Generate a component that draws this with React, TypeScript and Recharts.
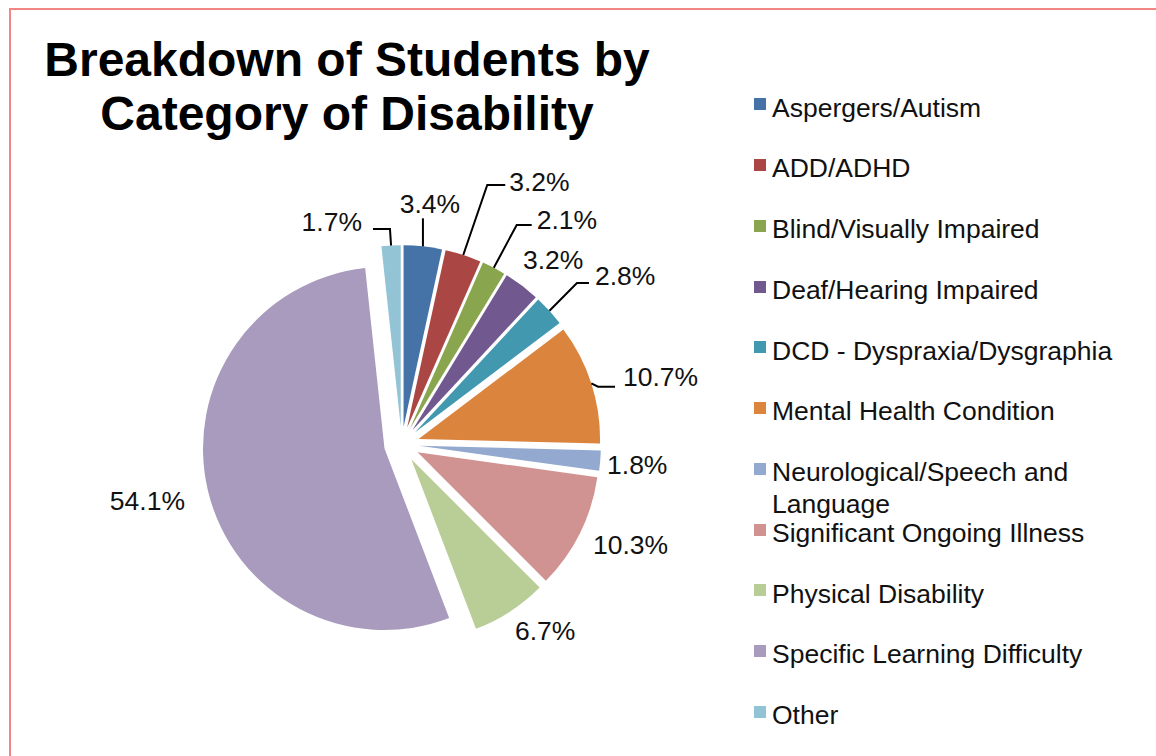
import React from 'react';
import { PieChart, Pie, Cell, Sector, Legend } from 'recharts';

const categories = [
  'Aspergers/Autism',
  'ADD/ADHD',
  'Blind/Visually Impaired',
  'Deaf/Hearing Impaired',
  'DCD - Dyspraxia/Dysgraphia',
  'Mental Health Condition',
  'Neurological/Speech and Language',
  'Significant Ongoing Illness',
  'Physical Disability',
  'Specific Learning Difficulty',
  'Other',
];
const percentages = [3.4, 3.2, 2.1, 3.2, 2.8, 10.7, 1.8, 10.3, 6.7, 54.1, 1.7];
const colors = [
  '#4572A7', '#AA4643', '#89A54E', '#71588F', '#4198AF', '#DB843D',
  '#93A9CF', '#D19392', '#B9CD96', '#A99BBD', '#92C4D6',
];
const titleLines = ['Breakdown of Students by', 'Category of Disability'];

const data = categories.map((name, i) => ({ name, value: percentages[i] }));

const FONT = "'Liberation Sans', Arial, Helvetica, sans-serif";
const EXPLODE = 17.7;
const RAD = Math.PI / 180;

type Pt = [number, number];
type LabelLayout = { text: Pt; anchor: 'start' | 'middle' | 'end'; leader?: Pt[] };

// label placement relative to the outer arc midpoint of each (exploded) slice
const labelLayouts: LabelLayout[] = [
  { text: [7, -43], anchor: 'middle', leader: [[0, 0], [0, -28]] },
  { text: [46, -73.5], anchor: 'start', leader: [[0, 0], [24, -70], [42, -70]] },
  { text: [42.9, -47.8], anchor: 'start', leader: [[0, 0], [22.9, -42.8], [37.9, -42.8]] },
  { text: [1.2, -25.5], anchor: 'start' },
  { text: [45.5, -34.8], anchor: 'start', leader: [[0, 0], [27.5, -27.8], [39.5, -27.8]] },
  { text: [31.7, -6.5], anchor: 'start', leader: [[0, 0], [6.7, 3.2], [23.7, 3.2]] },
  { text: [6.8, 4.3], anchor: 'start' },
  { text: [13, 11.8], anchor: 'start' },
  { text: [5, 19.3], anchor: 'start' },
  { text: [-23, 10], anchor: 'end' },
  { text: [-29.1, -23.5], anchor: 'end', leader: [[0, 0], [-1.1, -16.5], [-18.1, -16.5]] },
];

const unit = (mid: number) => [Math.cos(-mid * RAD), Math.sin(-mid * RAD)];

const ExplodedSector = (props: any) => {
  const { cx, cy, midAngle } = props;
  const [ux, uy] = unit(midAngle);
  return <Sector {...props} cx={cx + EXPLODE * ux} cy={cy + EXPLODE * uy} />;
};

const renderLabel = (props: any) => {
  const { cx, cy, midAngle, outerRadius, index, value } = props;
  const [ux, uy] = unit(midAngle);
  const ax = cx + (outerRadius + EXPLODE) * ux;
  const ay = cy + (outerRadius + EXPLODE) * uy;
  const lay = labelLayouts[index];
  const pts = lay.leader ? lay.leader.map(([dx, dy]) => `${ax + dx},${ay + dy}`).join(' ') : null;
  return (
    <g key={`lbl-${index}`}>
      {pts && <polyline points={pts} fill="none" stroke="#000" strokeWidth={2} />}
      <text
        x={ax + lay.text[0]}
        y={ay + lay.text[1] + 9.5}
        textAnchor={lay.anchor}
        fontFamily={FONT}
        fontSize={26.5}
        fill="#111"
      >
        {`${Number(value).toFixed(1)}%`}
      </text>
    </g>
  );
};

const renderLegend = (props: any) => {
  const payload = [...(props.payload || [])].sort(
    (a: any, b: any) => categories.indexOf(a.value) - categories.indexOf(b.value)
  );
  return (
    <div style={{ position: 'relative', width: 400, height: 756 }}>
      {payload.map((entry: any, i: number) => {
        const c = 107.3 + i * 60.75;
        return (
          <React.Fragment key={`leg-${i}`}>
            <div
              style={{
                position: 'absolute', left: 0, top: c - 9, width: 12, height: 12,
                background: entry.color,
              }}
            />
            <div
              style={{
                position: 'absolute', left: 18, top: c - 15.7, width: 370,
                fontFamily: FONT, fontSize: 26.5, lineHeight: '32px', color: '#111',
                whiteSpace: 'normal',
              }}
            >
              {entry.value}
            </div>
          </React.Fragment>
        );
      })}
    </div>
  );
};

export default function App() {
  return (
    <div
      style={{
        position: 'fixed', left: 0, top: 0, width: 1156, height: 756,
        overflow: 'hidden', background: '#fff',
      }}
    >
      <div
        style={{
          position: 'absolute', left: 8.5, top: 7.5, width: 2000, height: 2000,
          border: '2.5px solid #F28585', boxSizing: 'border-box',
        }}
      />
      <div
        style={{
          position: 'absolute', left: 0, top: 33.4, width: 694, textAlign: 'center',
          fontFamily: FONT, fontWeight: 'bold', fontSize: 48, lineHeight: '54px', color: '#000',
        }}
      >
        {titleLines.map((t) => (
          <div key={t}>{t}</div>
        ))}
      </div>
      <div style={{ position: 'absolute', left: 0, top: 0 }}>
        <PieChart width={1156} height={756} margin={{ top: 0, right: 0, bottom: 0, left: 0 }}>
          <Pie
            data={data}
            dataKey="value"
            nameKey="name"
            cx={401.7}
            cy={444.4}
            outerRadius={181.5}
            startAngle={90}
            endAngle={-270}
            stroke="none"
            isAnimationActive={false}
            shape={ExplodedSector}
            label={renderLabel}
            labelLine={false}
          >
            {data.map((d, i) => (
              <Cell key={d.name} fill={colors[i]} />
            ))}
          </Pie>
          <Legend
            layout="vertical"
            align="right"
            verticalAlign="top"
            content={renderLegend}
            wrapperStyle={{ position: 'absolute', left: 754, top: 0, width: 400, height: 756 }}
          />
        </PieChart>
      </div>
    </div>
  );
}
